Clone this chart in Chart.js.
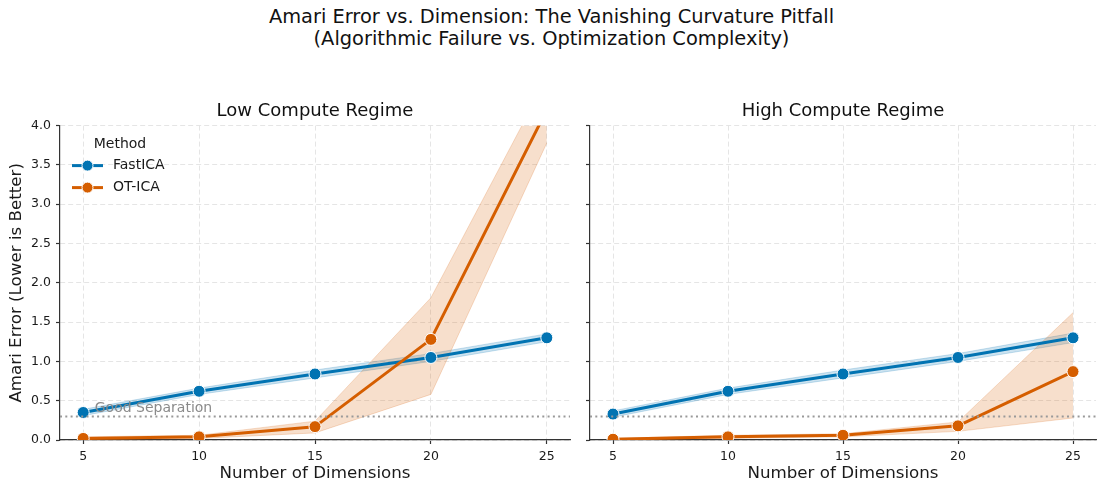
<!DOCTYPE html>
<html>
<head>
<meta charset="utf-8">
<title>Amari Error vs. Dimension</title>
<script src="https://cdn.jsdelivr.net/npm/chart.js"></script>
<style>
    body { margin: 0; background: #fff; font-family: "DejaVu Sans", sans-serif; }
    #wrap { position: relative; width: 1103px; height: 487px; overflow: hidden; }
    #suptitle {
        position: absolute; top: 6px; left: 0; width: 1103px;
        text-align: center; font-size: 19.4px; line-height: 22px; color: #111;
    }
    canvas { position: absolute; top: 0; }
</style>
</head>
<body>
<div id="wrap">
    <div id="suptitle">Amari Error vs. Dimension: The Vanishing Curvature Pitfall<br>(Algorithmic Failure vs. Optimization Complexity)</div>
    <canvas id="lowChart" width="578" height="487" style="left:0"></canvas>
    <canvas id="highChart" width="525" height="487" style="left:578px"></canvas>
</div>

<script>
    // number of dimensions on the x axis
    const dims = [5, 10, 15, 20, 25];
    const yTicks = [0, 0.5, 1.0, 1.5, 2.0, 2.5, 3.0, 3.5, 4.0];

    // Low compute regime: mean and band (lower / upper)
    const lowFast   = [0.35, 0.62, 0.84, 1.05, 1.30];
    const lowFastLo = [0.31, 0.58, 0.79, 1.00, 1.25];
    const lowFastHi = [0.39, 0.66, 0.89, 1.10, 1.35];
    const lowOt     = [0.02, 0.04, 0.17, 1.28, 4.20];
    const lowOtLo   = [0.00, 0.02, 0.09, 0.58, 3.78];
    const lowOtHi   = [0.04, 0.06, 0.24, 1.81, 4.60];

    // High compute regime
    const highFast   = [0.33, 0.62, 0.84, 1.05, 1.30];
    const highFastLo = [0.29, 0.58, 0.79, 1.00, 1.24];
    const highFastHi = [0.37, 0.66, 0.89, 1.10, 1.36];
    const highOt     = [0.01, 0.04, 0.06, 0.18, 0.87];
    const highOtLo   = [0.00, 0.02, 0.04, 0.11, 0.28];
    const highOtHi   = [0.02, 0.06, 0.08, 0.23, 1.62];

    const threshold = 0.3;
    const thresholdText = 'Good Separation';

    const BLUE = [1, 115, 178];
    const ORANGE = [213, 94, 0];
    const rgba = (c, a) => `rgba(${c[0]},${c[1]},${c[2]},${a})`;
    const pts = arr => dims.map((d, i) => ({ x: d, y: arr[i] }));

    Chart.defaults.font.family = '"DejaVu Sans", sans-serif';
    Chart.defaults.color = '#1a1a1a';

    function band(lo, hi, color, order) {
        const edge = rgba(color, 0.2);
        return [
            { data: pts(hi), borderColor: edge, borderWidth: 1, pointRadius: 0, fill: false, order: order + 1 },
            { data: pts(lo), borderColor: edge, borderWidth: 1, pointRadius: 0,
              backgroundColor: rgba(color, 0.2), fill: '-1', order: order }
        ];
    }

    function meanLine(label, arr, color, order) {
        return {
            label: label, data: pts(arr), borderColor: rgba(color, 1), borderWidth: 3,
            pointRadius: 6, pointHoverRadius: 6, pointBackgroundColor: rgba(color, 1),
            pointBorderColor: '#fff', pointBorderWidth: 1, borderJoinStyle: 'round',
            fill: false, order: order
        };
    }

    // threshold label and the in-axes legend
    const panelExtras = {
        id: 'panelExtras',
        afterDatasetsDraw(chart, args, opts) {
            const { ctx, chartArea, scales } = chart;
            ctx.save();
            if (opts.label) {
                ctx.font = '14px "DejaVu Sans"';
                ctx.fillStyle = '#8a8a8a';
                ctx.textAlign = 'left';
                ctx.textBaseline = 'alphabetic';
                ctx.fillText(thresholdText, scales.x.getPixelForValue(5.5), scales.y.getPixelForValue(0.35));
            }
            if (opts.legend) {
                const x0 = chartArea.left, y0 = chartArea.top;
                ctx.font = '14px "DejaVu Sans"';
                ctx.fillStyle = '#1a1a1a';
                ctx.textAlign = 'center';
                ctx.textBaseline = 'middle';
                ctx.fillText('Method', x0 + 60, y0 + 19);
                [['FastICA', BLUE], ['OT-ICA', ORANGE]].forEach(([name, c], i) => {
                    const y = y0 + 40 + i * 22;
                    ctx.strokeStyle = rgba(c, 1);
                    ctx.lineWidth = 3;
                    ctx.beginPath();
                    ctx.moveTo(x0 + 12, y);
                    ctx.lineTo(x0 + 43, y);
                    ctx.stroke();
                    ctx.beginPath();
                    ctx.arc(x0 + 27.5, y, 5.5, 0, Math.PI * 2);
                    ctx.fillStyle = rgba(c, 1);
                    ctx.fill();
                    ctx.lineWidth = 1;
                    ctx.strokeStyle = '#fff';
                    ctx.stroke();
                    ctx.fillStyle = '#1a1a1a';
                    ctx.textAlign = 'left';
                    ctx.fillText(name, x0 + 53, y);
                });
            }
            ctx.restore();
        }
    };

    function makePanel(id, title, data, first) {
        const [fast, fastLo, fastHi, ot, otLo, otHi] = data;
        const gridOpts = {
            color: '#e2e2e2', lineWidth: 0.9, drawTicks: true, tickLength: 4,
            tickColor: '#333', tickWidth: 1.2
        };
        const borderOpts = { display: true, color: '#333', width: 1.2, dash: [5, 3] };

        return new Chart(document.getElementById(id), {
            type: 'line',
            data: {
                datasets: [
                    ...band(fastLo, fastHi, BLUE, 9),
                    ...band(otLo, otHi, ORANGE, 7),
                    meanLine('FastICA', fast, BLUE, 4),
                    meanLine('OT-ICA', ot, ORANGE, 3),
                    { data: [{ x: 4, y: threshold }, { x: 26, y: threshold }], borderColor: '#999',
                      borderWidth: 2, borderDash: [2, 3.3], pointRadius: 0, fill: false, order: 1 }
                ]
            },
            options: {
                responsive: false,
                animation: false,
                devicePixelRatio: 1,
                events: [],
                layout: { padding: { left: 0, right: first ? 8 : 4, top: 0, bottom: 0 } },
                plugins: {
                    legend: { display: false },
                    tooltip: { enabled: false },
                    title: {
                        display: true, text: title, fullSize: false, color: '#111',
                        font: { size: 18, weight: 'normal' }, padding: { top: 101, bottom: 3 }
                    },
                    panelExtras: { legend: first, label: first }
                },
                scales: {
                    x: {
                        type: 'linear', min: 4, max: 26,
                        afterBuildTicks: s => { s.ticks = dims.map(v => ({ value: v })); },
                        afterFit: s => { s.height = 47; },
                        grid: gridOpts, border: borderOpts,
                        ticks: { font: { size: 12.5 }, padding: 5, maxRotation: 0 },
                        title: { display: true, text: 'Number of Dimensions', font: { size: 16.7 },
                                 padding: { top: 0, bottom: 3 } }
                    },
                    y: {
                        type: 'linear', min: 0, max: 4,
                        afterBuildTicks: s => { s.ticks = yTicks.map(v => ({ value: v })); },
                        afterFit: s => { s.width = first ? 60 : 12; },
                        grid: gridOpts, border: borderOpts,
                        ticks: { display: first, font: { size: 12.5 }, padding: 5, callback: v => v.toFixed(1) },
                        title: { display: first, text: 'Amari Error (Lower is Better)', font: { size: 16.7 },
                                 padding: { top: 7, bottom: 0 } }
                    }
                }
            },
            plugins: [panelExtras]
        });
    }

    makePanel('lowChart', 'Low Compute Regime',
        [lowFast, lowFastLo, lowFastHi, lowOt, lowOtLo, lowOtHi], true);
    makePanel('highChart', 'High Compute Regime',
        [highFast, highFastLo, highFastHi, highOt, highOtLo, highOtHi], false);
</script>
</body>
</html>
